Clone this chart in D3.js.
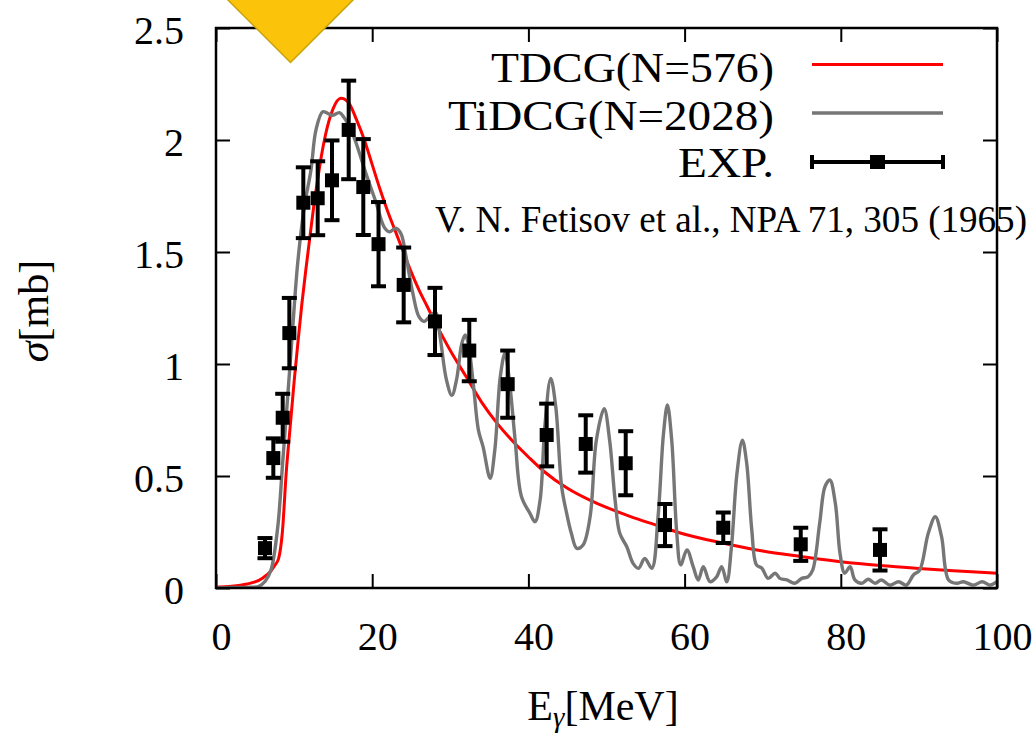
<!DOCTYPE html>
<html><head><meta charset="utf-8">
<script src="https://cdn.jsdelivr.net/npm/d3@7/dist/d3.min.js"></script>
<style>body{margin:0;background:#fff;overflow:hidden}</style>
</head><body>
<svg id="c" width="1036" height="733"></svg>
<script>
// ---- data ----
const xTicks = [0, 20, 40, 60, 80, 100];
const yTicks = [0, 0.5, 1, 1.5, 2, 2.5];
const seriesNames = ["TDCG(N=576)", "TiDCG(N=2028)", "EXP."];
const noteText = "V. N. Fetisov et al., NPA 71, 305 (1965)";

const expE   = [6.27, 7.34, 8.54, 9.39, 11.18, 13.02, 14.85, 16.99, 18.86, 20.81, 24.03, 28.04, 32.43, 37.35, 42.34, 47.34, 52.46, 57.49, 64.95, 74.87, 85.02];
const expS   = [0.178, 0.58, 0.76, 1.138, 1.72, 1.74, 1.82, 2.045, 1.79, 1.535, 1.353, 1.19, 1.06, 0.91, 0.683, 0.643, 0.557, 0.281, 0.269, 0.195, 0.17];
const expErr = [0.045, 0.088, 0.107, 0.157, 0.158, 0.165, 0.178, 0.22, 0.214, 0.188, 0.167, 0.15, 0.137, 0.15, 0.14, 0.128, 0.143, 0.094, 0.068, 0.074, 0.092];

const tdcgE = [0, 2, 4, 5, 6, 7, 7.5, 8, 8.5, 9, 9.5, 10, 10.5, 11, 11.5, 12, 12.5, 13, 13.5, 14, 15, 16, 17, 18, 19, 20, 21, 22, 23, 24, 25, 26, 27, 28, 30, 32, 34, 36, 38, 40, 42, 45, 48, 50, 53, 56, 60, 65, 70, 75, 80, 85, 90, 95, 100];
const tdcgS = [0.004, 0.008, 0.018, 0.027, 0.045, 0.075, 0.1, 0.13, 0.25, 0.52, 0.72, 0.92, 1.10, 1.27, 1.42, 1.56, 1.70, 1.82, 1.93, 2.02, 2.14, 2.186, 2.165, 2.09, 2.00, 1.89, 1.78, 1.68, 1.59, 1.50, 1.41, 1.33, 1.26, 1.19, 1.06, 0.945, 0.83, 0.735, 0.655, 0.585, 0.52, 0.445, 0.39, 0.36, 0.32, 0.285, 0.24, 0.2, 0.165, 0.14, 0.117, 0.1, 0.087, 0.076, 0.066];

const tidcgE = [0, 2, 4, 5.5, 6.3, 7.04, 7.9, 8.53, 9.18, 9.8, 10.46, 11.3, 12.16, 12.8, 13.66, 14.3, 14.9, 15.8, 16.4, 17.3, 18.1, 19.2, 20.5, 21.55, 22.2, 23.05, 23.7, 24.33, 25.2, 26.0, 26.67, 27.3, 28.1, 28.7, 29.5, 30.2, 30.8, 31.46, 31.9, 32.3, 32.95, 33.6, 34.2, 35.1, 35.7, 36.4, 37.0, 37.6, 38.3, 39.1, 40.2, 40.85, 41.5, 42.1, 42.86, 43.5, 44.26, 44.9, 45.5, 46.2, 47.0, 47.9, 48.7, 49.7, 50.4, 51.1, 51.7, 52.6, 53.4, 54.1, 54.9, 55.8, 56.6, 57.3, 57.8, 58.35, 59.0, 59.5, 60.3, 61.1, 61.75, 62.4, 63.25, 64.1, 64.75, 65.4, 66.0, 66.7, 67.4, 67.95, 68.6, 69.2, 69.9, 70.7, 71.6, 72.2, 73.1, 74.1, 75.0, 75.8, 76.4, 77.3, 77.97, 78.6, 79.3, 79.9, 80.5, 81.2, 81.8, 82.7, 83.5, 84.4, 85.2, 86.3, 87.4, 88.4, 89.3, 90.1, 91.2, 92.1, 92.9, 93.8, 94.85, 95.7, 97, 98.1, 99.1, 100];
const tidcgS = [0, 0.002, 0.003, 0.008, 0.03, 0.08, 0.27, 0.557, 0.854, 1.15, 1.45, 1.70, 1.866, 2.045, 2.126, 2.119, 2.11, 2.122, 2.10, 2.045, 1.97, 1.85, 1.72, 1.61, 1.59, 1.606, 1.58, 1.48, 1.316, 1.21, 1.19, 1.21, 1.23, 1.12, 0.93, 0.86, 0.93, 1.09, 1.13, 1.09, 0.91, 0.705, 0.63, 0.49, 0.616, 0.943, 1.048, 0.914, 0.66, 0.41, 0.333, 0.296, 0.393, 0.72, 0.936, 0.81, 0.452, 0.333, 0.244, 0.177, 0.192, 0.318, 0.66, 0.80, 0.66, 0.393, 0.244, 0.184, 0.11, 0.088, 0.132, 0.088, 0.318, 0.69, 0.817, 0.66, 0.244, 0.103, 0.17, 0.095, 0.036, 0.095, 0.028, 0.05, 0.095, 0.028, 0.184, 0.51, 0.66, 0.557, 0.26, 0.103, 0.088, 0.043, 0.066, 0.043, 0.036, 0.021, 0.043, 0.05, 0.08, 0.29, 0.452, 0.482, 0.378, 0.155, 0.066, 0.095, 0.036, 0.021, 0.039, 0.021, 0.036, 0.013, 0.028, 0.013, 0.058, 0.08, 0.244, 0.318, 0.229, 0.036, 0.021, 0.028, 0.013, 0.028, 0.013, 0.028];

// ---- layout ----
const W = 1036, H = 733;
const L = 216, R = 997, T = 28, B = 588;
const FONT = "'Liberation Serif','Times New Roman',serif";
const svg = d3.select("#c");
const x = d3.scaleLinear().domain([0, 100]).range([L, R]);
const y = d3.scaleLinear().domain([0, 2.5]).range([B, T]);

svg.append("defs").append("clipPath").attr("id", "clip")
  .append("rect").attr("x", L).attr("y", T).attr("width", R - L).attr("height", B - T);

// axes (ticks inward)
const tk = 14;
function styleAxis(g) {
  g.select(".domain").remove();
  g.selectAll(".tick line").attr("stroke", "#000").attr("stroke-width", 2);
  g.selectAll("text").attr("font-family", FONT).attr("font-size", 40).attr("fill", "#000");
}
const gx = svg.append("g").attr("transform", `translate(0,${B})`)
  .call(d3.axisBottom(x).tickValues(xTicks).tickSize(-tk).tickFormat(d3.format("d")));
styleAxis(gx);
gx.selectAll("text").attr("y", 62).attr("dy", 0).attr("dx", 5);

const gxt = svg.append("g").attr("transform", `translate(0,${T})`)
  .call(d3.axisTop(x).tickValues(xTicks).tickSize(-tk).tickFormat(""));
styleAxis(gxt);

const gy = svg.append("g").attr("transform", `translate(${L},0)`)
  .call(d3.axisLeft(y).tickValues(yTicks).tickSize(-tk).tickFormat(d => String(d)));
styleAxis(gy);
gy.selectAll("text").attr("x", -32).attr("dy", 15).attr("text-anchor", "end");

const gyr = svg.append("g").attr("transform", `translate(${R},0)`)
  .call(d3.axisRight(y).tickValues(yTicks).tickSize(-tk).tickFormat(""));
styleAxis(gyr);

// curves
const plot = svg.append("g").attr("clip-path", "url(#clip)");
const redLine = d3.line().x(d => x(d[0])).y(d => y(d[1])).curve(d3.curveMonotoneX);
const grayLine = d3.line().x(d => x(d[0])).y(d => y(d[1])).curve(d3.curveCatmullRom.alpha(0.5));
plot.append("path").datum(tdcgE.map((e, i) => [e, tdcgS[i]]))
  .attr("d", redLine).attr("fill", "none").attr("stroke", "#ff0000").attr("stroke-width", 3);
plot.append("path").datum(tidcgE.map((e, i) => [e, tidcgS[i]]))
  .attr("d", grayLine).attr("fill", "none").attr("stroke", "#767676").attr("stroke-width", 3.4).attr("stroke-linejoin", "round");

// experimental points
const exp = expE.map((e, i) => ({ e, s: expS[i], err: expErr[i] }));
const pg = svg.append("g");
const cap = 7.5, sq = 14;
const eg = pg.selectAll("g.p").data(exp).join("g").attr("class", "p");
eg.append("line").attr("x1", d => x(d.e)).attr("x2", d => x(d.e))
  .attr("y1", d => y(d.s - d.err)).attr("y2", d => y(d.s + d.err))
  .attr("stroke", "#000").attr("stroke-width", 4);
eg.append("line").attr("x1", d => x(d.e) - cap).attr("x2", d => x(d.e) + cap)
  .attr("y1", d => y(d.s + d.err)).attr("y2", d => y(d.s + d.err))
  .attr("stroke", "#000").attr("stroke-width", 4);
eg.append("line").attr("x1", d => x(d.e) - cap).attr("x2", d => x(d.e) + cap)
  .attr("y1", d => y(d.s - d.err)).attr("y2", d => y(d.s - d.err))
  .attr("stroke", "#000").attr("stroke-width", 4);
eg.append("rect").attr("x", d => x(d.e) - sq / 2).attr("y", d => y(d.s) - sq / 2)
  .attr("width", sq).attr("height", sq).attr("fill", "#000");

// frame
svg.append("rect").attr("x", L).attr("y", T).attr("width", R - L).attr("height", B - T)
  .attr("fill", "none").attr("stroke", "#000").attr("stroke-width", 2.5);

// legend
const legX1 = 812, legX2 = 943, legTextX = 774;
const legRows = [
  { name: seriesNames[0], base: 82, ly: 64.5, len: 283, kind: "red" },
  { name: seriesNames[1], base: 130, ly: 113, len: 326, kind: "gray" },
  { name: seriesNames[2], base: 177, ly: 162, len: 96, kind: "exp" }
];
legRows.forEach(r => {
  svg.append("text").attr("x", legTextX).attr("y", r.base).attr("text-anchor", "end")
    .attr("font-family", FONT).attr("font-size", 42).attr("fill", "#000")
    .attr("textLength", r.len).attr("lengthAdjust", "spacingAndGlyphs").text(r.name);
  if (r.kind === "red" || r.kind === "gray") {
    svg.append("line").attr("x1", legX1).attr("x2", legX2).attr("y1", r.ly).attr("y2", r.ly)
      .attr("stroke", r.kind === "red" ? "#ff0000" : "#767676").attr("stroke-width", r.kind === "red" ? 3 : 3.4);
  } else {
    svg.append("line").attr("x1", legX1).attr("x2", legX2).attr("y1", r.ly).attr("y2", r.ly)
      .attr("stroke", "#000").attr("stroke-width", 4);
    [legX1, legX2].forEach(cx => svg.append("line").attr("x1", cx).attr("x2", cx)
      .attr("y1", r.ly - 7).attr("y2", r.ly + 7).attr("stroke", "#000").attr("stroke-width", 4));
    svg.append("rect").attr("x", (legX1 + legX2) / 2 - 7.5).attr("y", r.ly - 7)
      .attr("width", 15).attr("height", 14).attr("fill", "#000");
  }
});

// note
svg.append("text").attr("x", 435).attr("y", 232).attr("font-family", FONT).attr("font-size", 37)
  .attr("fill", "#000").attr("textLength", 592).attr("lengthAdjust", "spacingAndGlyphs").text(noteText);

// axis titles
const xt = svg.append("text").attr("x", 603).attr("y", 720).attr("text-anchor", "middle")
  .attr("font-family", FONT).attr("font-size", 42).attr("fill", "#000");
xt.append("tspan").text("E");
xt.append("tspan").attr("font-size", 29).attr("font-style", "italic").attr("dy", 7).text("γ");
xt.append("tspan").attr("dy", -7).text("[MeV]");

const yt = svg.append("text").attr("transform", `translate(48,311) rotate(-90)`).attr("text-anchor", "middle")
  .attr("font-family", FONT).attr("font-size", 42).attr("fill", "#000");
yt.append("tspan").attr("font-style", "italic").text("σ");
yt.append("tspan").text("[mb]");

// yellow diamond marker on top
const dc = [290.5, -1.5], dr = 64;
svg.append("path")
  .attr("d", `M${dc[0]},${dc[1] - dr} L${dc[0] + dr},${dc[1]} L${dc[0]},${dc[1] + dr} L${dc[0] - dr},${dc[1]} Z`)
  .attr("fill", "#fbc40b").attr("stroke", "#c9a20a").attr("stroke-width", 1.5);
</script>
</body></html>
